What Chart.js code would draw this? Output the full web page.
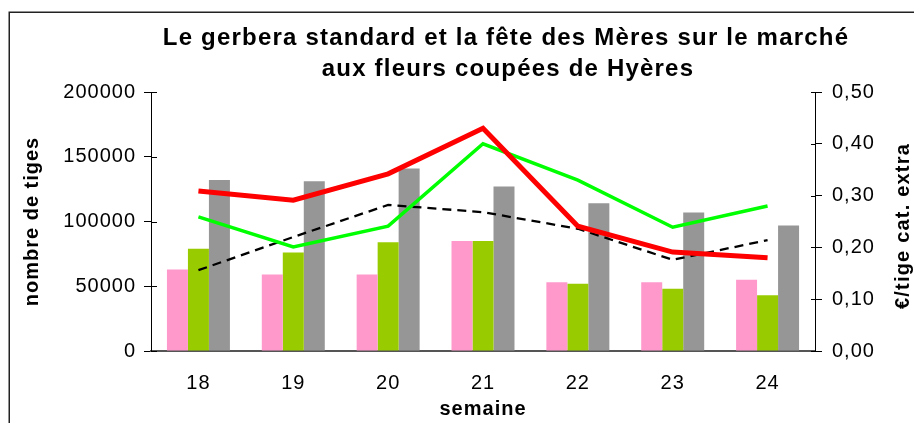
<!DOCTYPE html>
<html>
<head>
<meta charset="utf-8">
<script src="https://cdn.jsdelivr.net/npm/chart.js@4/dist/chart.umd.min.js"></script>
<style>
  html, body { margin: 0; padding: 0; background: #fff; }
  #wrap { width: 914px; height: 423px; position: relative; }
</style>
</head>
<body>
<div id="wrap"><canvas id="c" width="914" height="423"></canvas></div>
<script>
// ---- data ----
const weeks = ['18', '19', '20', '21', '22', '23', '24'];
const stemsPink  = [63000, 59000, 59000, 85000, 53000, 53000, 55000];
const stemsGreen = [79000, 76000, 84000, 85000, 52000, 48000, 43000];
const stemsGray  = [132000, 131000, 141000, 127000, 114000, 107000, 97000];
const priceRed   = [0.309, 0.291, 0.342, 0.430, 0.241, 0.191, 0.180];
const priceGreen = [0.259, 0.201, 0.241, 0.400, 0.330, 0.239, 0.280];
const priceBlack = [0.156, 0.220, 0.282, 0.268, 0.236, 0.176, 0.214];
const leftTickLabels  = ['0', '50000', '100000', '150000', '200000'];
const rightTickLabels = ['0,00', '0,10', '0,20', '0,30', '0,40', '0,50'];
const titleLines = ['Le gerbera standard et la fête des Mères sur le marché', 'aux fleurs coupées de Hyères'];
const xTitle = 'semaine';
const yTitle = 'nombre de tiges';
const y1Title = '€/tige cat. extra';

const FONT = "'Liberation Sans', Arial, sans-serif";

const decorPlugin = {
  id: 'decor',
  beforeDraw(chart) {
    const ctx = chart.ctx;
    ctx.letterSpacing = '1px';
  },
  afterDraw(chart) {
    const ctx = chart.ctx;
    ctx.save();
    // outer frame
    ctx.strokeStyle = '#222';
    ctx.lineWidth = 1.5;
    ctx.strokeRect(9.25, 12.25, 1000, 1000);
    // inner halves of the cross tick marks
    ctx.strokeStyle = '#000';
    ctx.lineWidth = 1;
    const ys = chart.scales.y, y1 = chart.scales.y1;
    ys.ticks.forEach(t => {
      const p = Math.round(ys.getPixelForValue(t.value)) + 0.5;
      ctx.beginPath(); ctx.moveTo(ys.right, p); ctx.lineTo(ys.right + 6, p); ctx.stroke();
    });
    y1.ticks.forEach(t => {
      const p = Math.round(y1.getPixelForValue(t.value)) + 0.5;
      ctx.beginPath(); ctx.moveTo(y1.left, p); ctx.lineTo(y1.left - 4, p); ctx.stroke();
    });
    // title
    ctx.fillStyle = '#000';
    ctx.textAlign = 'center';
    ctx.textBaseline = 'alphabetic';
    ctx.letterSpacing = '1.2px';
    ctx.font = 'bold 24px ' + FONT;
    ctx.fillText(titleLines[0], 506, 45);
    ctx.fillText(titleLines[1], 508, 76);
    // right axis title (reads bottom to top)
    ctx.letterSpacing = '1.2px';
    ctx.font = 'bold 20px ' + FONT;
    ctx.translate(903, 226);
    ctx.rotate(-Math.PI / 2);
    ctx.textBaseline = 'middle';
    ctx.fillText(y1Title, 0, 0);
    ctx.restore();
  }
};

new Chart(document.getElementById('c'), {
  data: {
    labels: weeks,
    datasets: [
      { type: 'line', label: 'prix série 1', data: priceRed, yAxisID: 'y1', borderColor: '#FF0000', borderWidth: 5, pointRadius: 0, tension: 0, order: 0, fill: false },
      { type: 'line', label: 'prix série 2', data: priceGreen, yAxisID: 'y1', borderColor: '#00FF00', borderWidth: 3.5, pointRadius: 0, tension: 0, order: 1, fill: false },
      { type: 'line', label: 'prix série 3', data: priceBlack, yAxisID: 'y1', borderColor: '#000000', borderWidth: 2.3, borderDash: [9, 6], pointRadius: 0, tension: 0, order: 2, fill: false },
      { type: 'bar', label: 'tiges série 1', data: stemsPink, yAxisID: 'y', backgroundColor: '#FF99CC', order: 3 },
      { type: 'bar', label: 'tiges série 2', data: stemsGreen, yAxisID: 'y', backgroundColor: '#99CC00', order: 3 },
      { type: 'bar', label: 'tiges série 3', data: stemsGray, yAxisID: 'y', backgroundColor: '#969696', order: 3 }
    ]
  },
  options: {
    responsive: false,
    animation: false,
    devicePixelRatio: 1,
    layout: { padding: { top: 92, left: 0, right: 0, bottom: 0 } },
    datasets: { bar: { categoryPercentage: 0.664, barPercentage: 1.0 } },
    plugins: { legend: { display: false }, tooltip: { enabled: false }, title: { display: false } },
    scales: {
      x: {
        afterFit(s) { s.height = 72; },
        grid: { display: true, drawOnChartArea: false, drawTicks: false },
        border: { display: true, color: '#555', width: 2 },
        ticks: { color: '#000', font: { family: FONT, size: 20 }, padding: 20, maxRotation: 0 },
        title: { display: true, text: xTitle, color: '#000', font: { family: FONT, size: 20, weight: 'bold' }, padding: { top: 0, bottom: 2 } }
      },
      y: {
        position: 'left',
        min: 0, max: 200000,
        afterFit(s) { s.width = 151; },
        afterBuildTicks(s) { s.ticks = leftTickLabels.map(l => ({ value: Number(l) })); },
        grid: { drawOnChartArea: false, drawTicks: true, tickLength: 7, color: '#000' },
        border: { display: true, color: '#000', width: 1 },
        ticks: { color: '#000', font: { family: FONT, size: 20 }, padding: 8, callback: (v, i) => leftTickLabels[i] },
        title: { display: true, text: yTitle, color: '#000', font: { family: FONT, size: 20, weight: 'bold' }, padding: { top: 20, bottom: 0 } }
      },
      y1: {
        position: 'right',
        min: 0, max: 0.5,
        afterFit(s) { s.width = 99; },
        afterBuildTicks(s) { s.ticks = rightTickLabels.map(l => ({ value: Number(l.replace(',', '.')) })); },
        grid: { drawOnChartArea: false, drawTicks: true, tickLength: 7, color: '#000' },
        border: { display: true, color: '#000', width: 1 },
        ticks: { color: '#000', font: { family: FONT, size: 20 }, padding: 10, callback: (v, i) => rightTickLabels[i] }
      }
    }
  },
  plugins: [decorPlugin]
});
</script>
</body>
</html>
